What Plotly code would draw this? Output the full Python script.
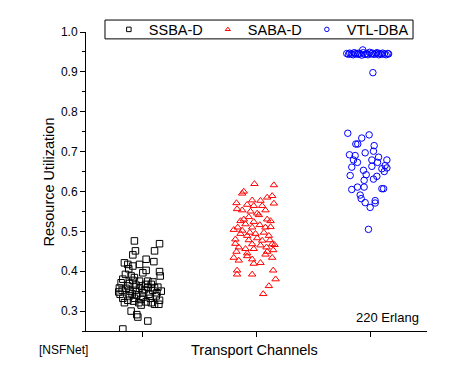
import plotly.graph_objects as go

# ---- data (category position + jitter offset, value) ----
categories = [1, 2, 3]
series_names = ["SSBA-D", "SABA-D", "VTL-DBA"]

ssba_offset = [-0.074, 0.147, -0.065, 0.103, -0.088, 0.029, 0.097, -0.162, -0.132, -0.088,
               -0.124, -0.029, 0.029, 0.0, 0.147, 0.153, -0.153, -0.103, -0.074, -0.176,
               0.044, -0.191, -0.118, -0.059, -0.015, 0.074, 0.132, -0.206, -0.147, 0.015,
               0.088, 0.162, -0.200, -0.094, -0.053, 0.053, 0.118, -0.176, -0.132, -0.082,
               -0.015, 0.029, 0.074, 0.103, 0.141, -0.035, -0.103, -0.053, -0.044, 0.044,
               -0.176, -0.182, -0.112, -0.029, 0.0, 0.044, 0.103, -0.162, 0.0, 0.065,
               -0.065, -0.132, -0.088, -0.029, 0.088, 0.124, -0.118, -0.212, 0.024, 0.147,
               -0.074, -0.015]
ssba_value = [0.476, 0.469, 0.451, 0.451, 0.441, 0.430, 0.424, 0.421, 0.417, 0.413,
              0.406, 0.417, 0.402, 0.396, 0.399, 0.388, 0.392, 0.388, 0.384, 0.380,
              0.375, 0.371, 0.369, 0.365, 0.363, 0.367, 0.360, 0.358, 0.357, 0.354,
              0.352, 0.350, 0.342, 0.343, 0.340, 0.342, 0.338, 0.332, 0.327, 0.325,
              0.329, 0.323, 0.321, 0.317, 0.317, 0.321, 0.300, 0.291, 0.285, 0.275,
              0.255, 0.352, 0.350, 0.357, 0.346, 0.360, 0.359, 0.321, 0.335, 0.332,
              0.352, 0.363, 0.377, 0.375, 0.373, 0.346, 0.338, 0.348, 0.367, 0.327,
              0.332, 0.315]

saba_offset = [-0.018, 0.153, -0.126, -0.112, 0.094, 0.138, -0.038, 0.035, -0.176, 0.153,
               -0.082, 0.050, -0.171, -0.126, -0.053, 0.006, -0.068, 0.094, 0.124, -0.141,
               -0.024, -0.097, 0.029, -0.165, 0.079, 0.124, -0.200, -0.126, -0.059, -0.009,
               0.065, -0.082, 0.006, 0.109, -0.186, -0.186, -0.038, 0.138, 0.159, 0.035,
               0.088, -0.156, -0.097, 0.094, 0.147, -0.176, -0.082, 0.079, -0.200, -0.082,
               -0.038, 0.138, -0.156, -0.024, 0.035, -0.171, 0.147, -0.171, -0.038, 0.168,
               0.109, 0.059, -0.024, 0.021, 0.079, -0.112, -0.038, -0.141, 0.050, -0.024,
               0.118, -0.068]
saba_value = [0.619, 0.616, 0.595, 0.600, 0.585, 0.589, 0.578, 0.577, 0.571, 0.570,
              0.567, 0.564, 0.556, 0.553, 0.550, 0.545, 0.536, 0.530, 0.526, 0.526,
              0.524, 0.518, 0.516, 0.510, 0.510, 0.511, 0.504, 0.502, 0.497, 0.494,
              0.497, 0.489, 0.483, 0.489, 0.480, 0.469, 0.468, 0.468, 0.466, 0.465,
              0.460, 0.460, 0.456, 0.449, 0.453, 0.449, 0.445, 0.442, 0.434, 0.438,
              0.430, 0.434, 0.427, 0.419, 0.421, 0.402, 0.402, 0.392, 0.392, 0.380,
              0.363, 0.343, 0.564, 0.541, 0.553, 0.530, 0.510, 0.494, 0.477, 0.456,
              0.478, 0.478]

vtl_offset = [-0.206, -0.190, -0.180, -0.165, -0.150, -0.140, -0.125, -0.110, -0.100, -0.090,
              -0.075, -0.060, -0.045, -0.030, -0.020, -0.005, 0.010, 0.020, 0.035, 0.050,
              0.060, 0.075, 0.085, 0.100, 0.110, 0.125, 0.140, 0.155, 0.162, -0.065,
              0.024,
              -0.197, -0.009, -0.074, -0.126, -0.109, 0.035, 0.029, -0.044, -0.182, -0.132,
              0.074, -0.147, 0.015, 0.147, -0.112, 0.065, -0.162, 0.015, 0.132, 0.147,
              -0.059, 0.103, 0.124, -0.035, -0.176, 0.059, -0.053, 0.029, -0.112, -0.053,
              -0.162, 0.103, 0.118, -0.088, -0.079, -0.044, 0.044, 0.044, 0.0, -0.015]
vtl_value = [0.946, 0.944, 0.947, 0.945, 0.943, 0.948, 0.946, 0.944, 0.947, 0.945,
             0.942, 0.948, 0.944, 0.946, 0.943, 0.949, 0.945, 0.947, 0.944, 0.946,
             0.948, 0.943, 0.946, 0.944, 0.947, 0.945, 0.943, 0.946, 0.945, 0.955,
             0.898,
             0.746, 0.742, 0.734, 0.719, 0.719, 0.715, 0.701, 0.697, 0.692, 0.690,
             0.686, 0.679, 0.679, 0.679, 0.673, 0.673, 0.661, 0.663, 0.665, 0.659,
             0.653, 0.657, 0.650, 0.642, 0.640, 0.638, 0.628, 0.631, 0.611, 0.611,
             0.605, 0.607, 0.607, 0.591, 0.582, 0.572, 0.577, 0.571, 0.560, 0.505]

y_ticks = [0.3, 0.4, 0.5, 0.6, 0.7, 0.8, 0.9, 1.0]
y_tick_labels = ["0.3", "0.4", "0.5", "0.6", "0.7", "0.8", "0.9", "1.0"]

FONT = "Liberation Sans, Arial, sans-serif"

series = [
    (series_names[0], categories[0], ssba_offset, ssba_value, "square-open", "#000000"),
    (series_names[1], categories[1], saba_offset, saba_value, "triangle-up-open", "#FF0000"),
    (series_names[2], categories[2], vtl_offset, vtl_value, "circle-open", "#0000FF"),
]

fig = go.Figure()
for name, cat, offs, vals, sym, col in series:
    fig.add_trace(go.Scatter(
        x=[cat + o for o in offs], y=vals, mode="markers", name=name,
        legendgroup=name, showlegend=False,
        marker=dict(symbol=sym, size=6.5, color=col, line=dict(color=col, width=1)),
    ))
# legend entries with the smaller symbols seen in the reference legend
for name, cat, offs, vals, sym, col in series:
    fig.add_trace(go.Scatter(
        x=[None], y=[None], mode="markers", name=name, legendgroup=name,
        marker=dict(symbol=sym, size=4.5, color=col, line=dict(color=col, width=1)),
    ))

# page body has an 8px margin, so the figure is 8px smaller and shifted
fig.update_layout(
    width=457, height=367,
    margin=dict(l=78, r=38, t=24, b=44, autoexpand=False),
    paper_bgcolor="white", plot_bgcolor="white",
    font=dict(family=FONT, size=12, color="black"),
    showlegend=True,
    legend=dict(orientation="h", x=0.067, y=1.0085, xanchor="left", yanchor="middle",
                bgcolor="rgba(0,0,0,0)", borderwidth=0,
                font=dict(size=14.5, family=FONT)),
    xaxis=dict(range=[0.5, 3.5], tickvals=categories, showticklabels=False,
               ticks="outside", ticklen=5, tickcolor="black", showline=True,
               linecolor="black", linewidth=1, showgrid=False, zeroline=False,
               automargin=False),
    yaxis=dict(range=[0.25, 1.0], tickvals=y_ticks, ticktext=y_tick_labels,
               ticks="outside", ticklen=5, tickcolor="black", showline=True,
               linecolor="black", linewidth=1, showgrid=False, zeroline=False,
               automargin=False,
               tickfont=dict(size=12, family=FONT),
               minor=dict(ticks="outside", ticklen=3, tickcolor="black",
                          tickvals=[0.25, 0.35, 0.45, 0.55, 0.65, 0.75, 0.85, 0.95])),
)

fig.add_shape(type="rect", xref="paper", yref="paper", x0=0.0557, x1=0.959, y0=0.977, y1=1.040,
              line=dict(color="black", width=1), fillcolor="white", layer="below")

fig.add_annotation(text="Resource Utilization", xref="paper", yref="paper", x=-0.1085, y=0.4967,
                   xanchor="center", yanchor="middle", textangle=-90, showarrow=False,
                   font=dict(size=14.5, family=FONT))
fig.add_annotation(text="Transport Channels", xref="paper", yref="paper", x=0.4956, y=-0.0635,
                   xanchor="center", yanchor="middle", showarrow=False,
                   font=dict(size=14.5, family=FONT))
fig.add_annotation(text="[NSFNet]", xref="paper", yref="paper", x=-0.1437, y=-0.0635,
                   xanchor="left", yanchor="middle", showarrow=False,
                   font=dict(size=12, family=FONT))
fig.add_annotation(text="220 Erlang", xref="paper", yref="paper", x=0.982, y=0.0435,
                   xanchor="right", yanchor="middle", showarrow=False,
                   font=dict(size=13, family=FONT))

fig.write_html("out.html")
